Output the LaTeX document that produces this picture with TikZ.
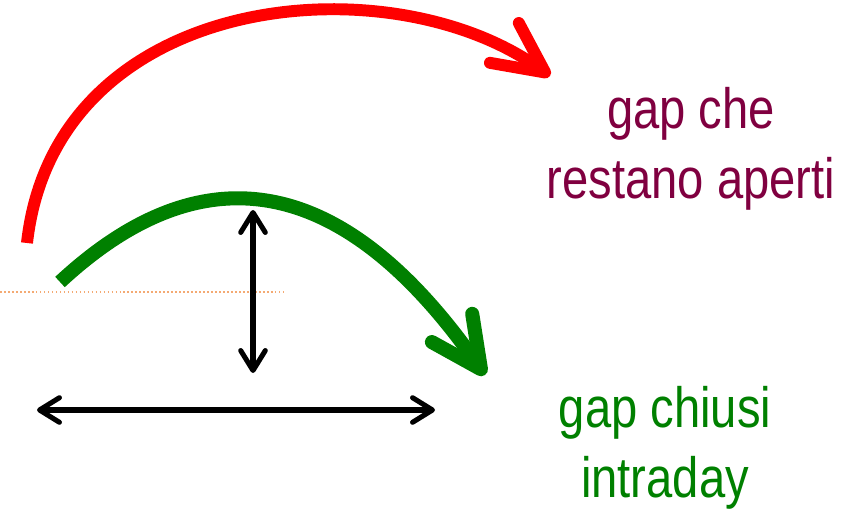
\documentclass[tikz,border=0pt]{standalone}
\usepackage{fontspec}
\setmainfont{Liberation Sans}
\usetikzlibrary{arrows.meta}
\definecolor{gapred}{RGB}{255,0,0}
\definecolor{gapgreen}{RGB}{0,128,0}
\definecolor{gapwine}{RGB}{128,0,64}
\definecolor{gapline}{RGB}{244,170,115}

\begin{document}
\begin{tikzpicture}[x=0.03cm,y=-0.03cm,
    gaplabel/.style={inner sep=0,align=center,xscale=0.83,
      font=\fontsize{48.5}{59.5}\selectfont}]
  \useasboundingbox (0,0) rectangle (861,510);

  % reference level
  \coordinate (levl) at (0,292);
  \coordinate (levr) at (285,292);
  \draw[gapline,line width=1.5pt,dash pattern=on 1.4pt off 2pt] (levl) -- (levr);

  % gap rimasti aperti
  \coordinate (redstart) at (27,243);
  \coordinate (redend) at (550,76);
  \draw[gapred,line width=10.2pt,-{Straight Barb[round,length=43pt,width=42pt]}]
    (redstart) .. controls (55,-10) and (390,-40) .. (redend);

  % gap chiusi
  \coordinate (greenstart) at (60,282);
  \coordinate (greenend) at (485,375);
  \draw[gapgreen,line width=12pt,-{Straight Barb[round,length=43pt,width=42pt]}]
    (greenstart) .. controls (173,177) and (319,138) .. (greenend);

  % ampiezza e durata
  \coordinate (vtop) at (253,210);
  \coordinate (vbot) at (253,373);
  \coordinate (hleft) at (37,410);
  \coordinate (hright) at (435,410);
  \draw[line width=4.3pt,{Straight Barb[round,length=17pt,width=21pt]}-{Straight Barb[round,length=17pt,width=21pt]}]
    (vtop) -- (vbot);
  \draw[line width=4.3pt,{Straight Barb[round,length=17pt,width=21pt]}-{Straight Barb[round,length=17pt,width=21pt]}]
    (hleft) -- (hright);

  \node[gaplabel,text=gapwine] (aperti) at (691,148.5) {gap che\\restano aperti};
  \node[gaplabel,text=gapgreen] (chiusi) at (665,447.5) {gap chiusi\\intraday};
\end{tikzpicture}
\end{document}
